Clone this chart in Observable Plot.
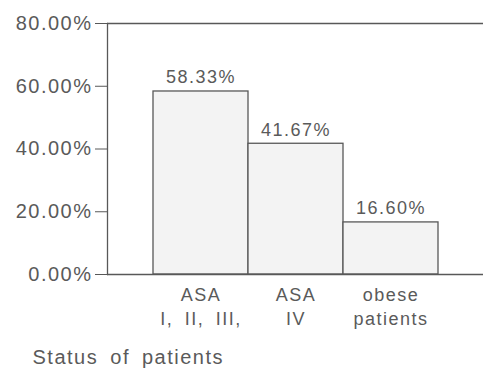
<!DOCTYPE html>
<html>
<head>
<meta charset="utf-8">
<script src="https://cdn.jsdelivr.net/npm/d3@7"></script>
<script src="https://cdn.jsdelivr.net/npm/@observablehq/plot@0.6"></script>
<style>
  html, body { margin: 0; padding: 0; background: #fff; }
  #chart svg text { letter-spacing: 1.5px; word-spacing: 5px; }
</style>
</head>
<body>
<div id="chart"></div>
<script>
// Patient groups (two-line labels) and their share of cases, in percent
const statuses = ["ASA\nI, II, III,", "ASA\nIV", "obese\npatients"];
const shares = [58.33, 41.67, 16.60];
const yTicks = [0, 20, 40, 60, 80];
const axisTitle = "Status of patients";

const data = statuses.map((status, i) => ({status, share: shares[i]}));
const ink = "#585858";
const textInk = "#5a5a5a";
const pct = d => d.toFixed(2) + "%";

const chart = Plot.plot({
  width: 483,
  height: 375,
  marginLeft: 107,
  marginRight: 0,
  marginTop: 23,
  marginBottom: 101,
  style: {fontFamily: "'Liberation Sans', Arial, sans-serif", color: textInk, background: "#fff"},
  x: {domain: statuses, range: [153, 438], padding: 0},
  y: {domain: [0, 80]},
  marks: [
    Plot.barY(data, {x: "status", y: "share", fill: "#f3f3f3", stroke: ink, strokeWidth: 1.3}),
    Plot.text(data, {x: "status", y: "share", text: d => pct(d.share), dy: -14, fontSize: 18, fill: textInk}),
    Plot.ruleY([0, 80], {stroke: ink, strokeWidth: 1.3}),
    Plot.frame({anchor: "left", stroke: ink, strokeWidth: 1.3}),
    Plot.axisY({ticks: yTicks, tickFormat: pct, tickSize: 12, tickPadding: 3, fontSize: 20, stroke: ink, label: null}),
    Plot.axisX({tickSize: 0, tickPadding: 10, fontSize: 18, lineHeight: 1.3, label: null}),
    Plot.text([axisTitle], {frameAnchor: "bottom-left", dx: -75, dy: 83, textAnchor: "start", lineAnchor: "middle", fontSize: 20, fill: textInk})
  ]
});
document.getElementById("chart").append(chart);
</script>
</body>
</html>
